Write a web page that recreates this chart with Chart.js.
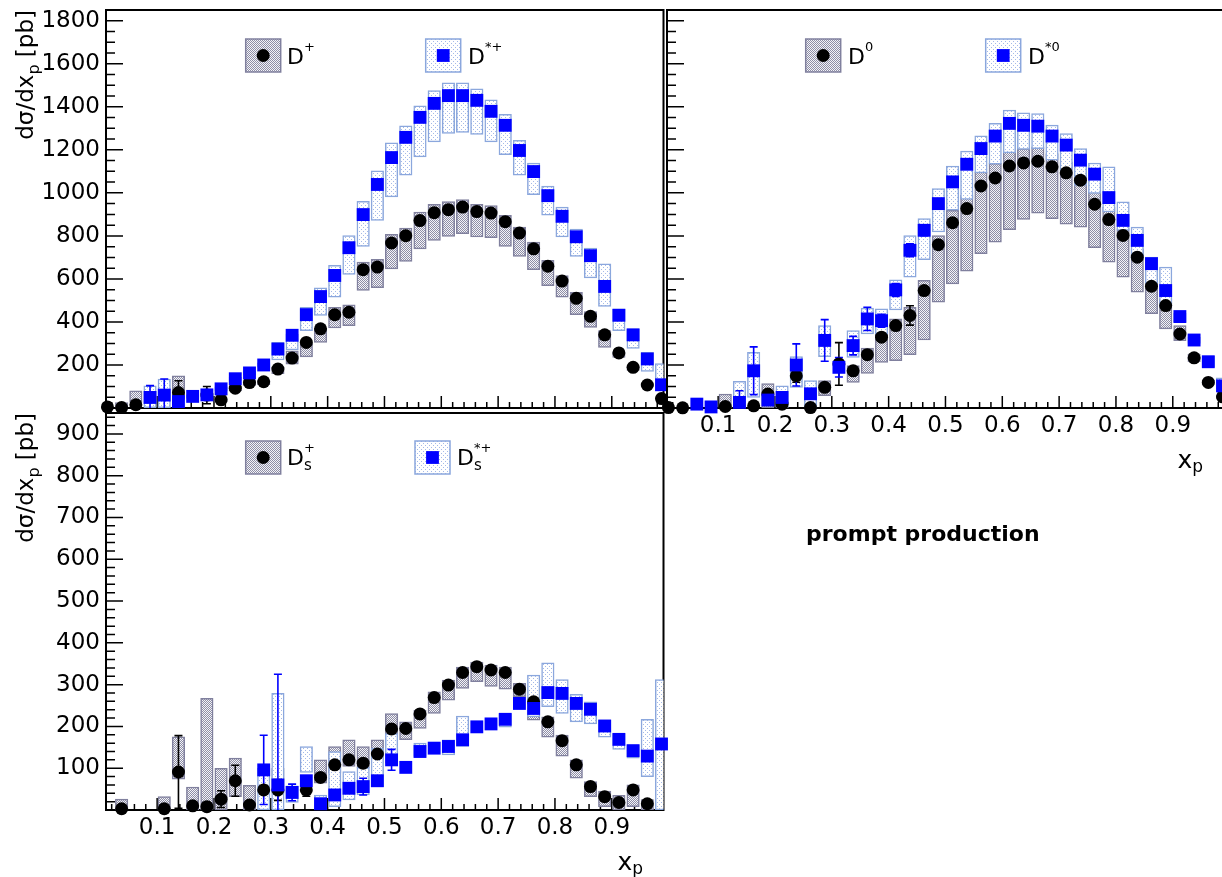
<!DOCTYPE html>
<html><head><meta charset="utf-8"><title>prompt production</title>
<script src="https://cdn.jsdelivr.net/npm/chart.js@4.4.1/dist/chart.umd.min.js"></script>
<style>
html,body{margin:0;padding:0;background:#fff;overflow:hidden;}
body{width:1222px;height:877px;position:relative;}
canvas{position:absolute;}
</style></head><body>
<canvas id="cTL" width="672" height="420" style="left:0px;top:0px"></canvas>
<canvas id="cTR" width="580" height="560" style="left:660px;top:0px"></canvas>
<canvas id="cBL" width="672" height="472" style="left:0px;top:405px"></canvas>
<script>
// ---------------- data ----------------
const xp = [0.0125,0.0375,0.0625,0.0875,0.1125,0.1375,0.1625,0.1875,0.2125,0.2375,
            0.2625,0.2875,0.3125,0.3375,0.3625,0.3875,0.4125,0.4375,0.4625,0.4875,
            0.5125,0.5375,0.5625,0.5875,0.6125,0.6375,0.6625,0.6875,0.7125,0.7375,
            0.7625,0.7875,0.8125,0.8375,0.8625,0.8875,0.9125,0.9375,0.9625,0.9875];

const xTickLabels = ['0.1','0.2','0.3','0.4','0.5','0.6','0.7','0.8','0.9'];
const yTopTickLabels = ['200','400','600','800','1000','1200','1400','1600','1800'];
const yBotTickLabels = ['100','200','300','400','500','600','700','800','900'];

// D+ (top left)
const dPlus = [5,2,15,null,null,72,null,60,38,92,
  118,122,181,232,305,368,434,445,643,655,
  767,801,871,908,922,934,913,906,866,813,
  740,659,590,510,426,340,256,189,107,44];
const dPlusSys = [null,[0,25],[26,80],null,null,[40,150],null,null,[28,48],[80,100],
  [105,128],[108,130],[160,190],[204,266],[238,300],[305,370],[372,468],[383,479],[546,678],[559,691],
  [647,807],[681,836],[740,911],[779,947],[798,959],[810,969],[795,947],[792,941],[751,896],[705,841],
  [643,771],[569,686],[515,616],[434,538],[375,448],[282,360],[235,262],[175,195],[100,112],[40,48]];
const dPlusErr = [0,0,0,0,0,55,0,40,0,0, 0,0,0,0,0,0,0,0,0,0, 0,0,0,0,0,0,0,0,0,0, 0,0,0,0,0,0,0,0,0,0];

// D*+ (top left)
const dStarPlus = [null,null,null,49,60,30,54,61,89,136,
  163,200,274,338,434,518,616,745,899,1039,
  1164,1258,1351,1416,1452,1452,1430,1379,1314,1197,
  1099,987,891,796,708,565,431,340,228,108];
const dStarPlusSys = [null,null,null,[2,103],[2,135],null,[45,62],[50,68],[80,98],[128,142],
  [155,170],[190,210],[223,305],[270,344],[360,468],[430,559],[515,663],[621,802],[751,961],[872,1102],
  [981,1233],[1082,1312],[1167,1405],[1237,1475],[1276,1512],[1281,1512],[1272,1483],[1237,1432],[1178,1365],[1082,1244],
  [992,1138],[896,1031],[795,934],[705,832],[605,743],[472,670],[360,461],[277,368],[170,259],[80,207]];
const dStarPlusErr = [0,0,0,55,75,0,0,0,0,0, 0,0,0,0,0,0,0,0,0,0, 0,0,0,0,0,0,0,0,0,0, 0,0,0,0,0,0,0,0,0,0];

// D0 (top right)
const dZero = [2,1,null,null,7,null,10,65,18,150,
  2,96,205,173,248,329,383,430,546,759,
  861,927,1032,1069,1125,1139,1147,1121,1093,1059,
  947,876,802,701,566,476,344,233,119,52];
const dZeroSys = [null,null,null,null,[2,65],null,null,[2,114],null,null,
  null,[57,127],null,[119,197],[161,279],[212,380],[220,414],[248,468],[316,593],[492,802],
  [577,919],[636,989],[717,1097],[771,1137],[829,1191],[876,1206],[906,1214],[880,1183],[854,1144],[841,1113],
  [745,1004],[678,934],[608,834],[538,740],[438,593],[368,507],[313,383],[215,250],[110,130],[45,60]];
const dZeroErr = [0,0,0,0,10,0,0,15,0,30, 0,0,99,0,0,0,0,45,0,0, 0,0,0,0,0,0,0,0,0,0, 0,0,0,0,0,0,0,0,0,0];

// D*0 (top right)
const dStarZero = [null,null,18,5,null,26,173,37,49,200,
  66,314,189,290,414,406,549,733,826,950,
  1051,1133,1206,1264,1323,1314,1310,1264,1222,1152,
  1087,978,872,779,671,546,425,316,215,103];
const dStarZeroSys = [null,null,null,null,null,[2,124],[49,259],null,[2,103],[96,239],
  [2,127],[239,383],null,[235,360],[344,464],[344,461],[456,596],[608,802],[689,880],[818,1020],
  [919,1125],[969,1194],[1093,1265],[1133,1323],[1186,1385],[1202,1372],[1206,1369],[1152,1315],[1105,1276],[1035,1206],
  [997,1139],[911,1121],[826,958],[694,841],[580,701],[476,655],[400,440],[300,330],[190,240],[90,140]];
const dStarZeroErr = [0,0,0,0,0,54,111,0,0,98, 0,97,45,43,54,30,30,30,25,0, 0,0,0,0,0,0,0,0,0,0, 0,0,0,0,0,0,0,0,0,0];

// Ds+ (bottom left)
const dsPlus = [null,3,null,null,3,91,10,8,26,70,
  12,48,48,null,48,78,108,120,112,134,
  194,195,230,269,299,329,343,335,329,289,
  259,211,166,108,56,32,18,48,15,null];
const dsPlusSys = [null,[0,26],null,null,[0,32],[74,175],[0,55],[0,267],[0,100],[32,124],
  [0,59],null,[40,100],null,null,[64,120],[88,152],[104,168],[100,152],[120,168],
  [175,231],[168,211],[195,239],[231,283],[263,311],[291,342],[307,354],[296,347],[289,342],[271,303],
  [215,267],[174,223],[129,179],[76,120],[32,68],[8,45],[0,35],[8,60],[0,25],null];
const dsPlusErr = [0,0,0,0,0,87,0,0,20,37, 0,0,25,0,15,0,0,0,0,0, 0,0,0,0,0,0,0,0,0,0, 0,0,0,0,0,0,0,0,0,0];

// Ds*+ (bottom left)
const dsStar = [null,null,null,null,null,null,null,null,null,null,
  null,96,60,42,70,15,36,52,56,70,
  120,102,140,148,152,168,199,206,217,255,
  243,281,279,255,241,201,169,142,129,158];
const dsStarSys = [null,null,null,null,null,null,null,null,null,null,
  null,[0,100],[0,279],[18,58],[90,152],[0,36],[8,140],[24,92],[36,102],[56,148],
  [112,183],null,[128,160],null,[132,168],[152,225],null,null,[198,231],null,
  [223,323],[247,352],[231,312],[211,277],[206,259],[174,215],[145,183],[124,156],[80,217],[0,312]];
const dsStarErr = [0,0,0,0,0,0,0,0,0,0, 0,83,265,20,0,0,0,0,20,0, 25,0,0,0,0,0,0,0,0,0, 0,0,0,0,0,0,0,0,0,0];

// ---------------- styling ----------------
const FONT = '"DejaVu Sans", "Liberation Sans", sans-serif';
const BLACK = '#000000', BLUE = '#0000ff';
const GREY_EDGE = '#80809e', BLUE_EDGE = '#8ba7dd';

function makePattern(kind) {
  const c = document.createElement('canvas');
  const g = c.getContext('2d');
  if (kind === 'grey') {
    c.width = 2; c.height = 2;
    g.fillStyle = '#f4f4f8'; g.fillRect(0, 0, 2, 2);
    g.fillStyle = '#8e8ea6'; g.fillRect(0, 0, 1, 1); g.fillRect(1, 1, 1, 1);
  } else {
    c.width = 4; c.height = 4;
    g.fillStyle = '#ffffff'; g.fillRect(0, 0, 4, 4);
    g.fillStyle = '#a4b9e8'; g.fillRect(1, 1, 1, 1); g.fillRect(3, 3, 1, 1);
  }
  return g.createPattern(c, 'repeat');
}
const GREY_PAT = makePattern('grey');
const BLUE_PAT = makePattern('blue');

function boxes(sys, pat, edge, order) {
  const data = [];
  xp.forEach((x, i) => { if (sys[i]) data.push({x: x, y: sys[i]}); });
  return {type: 'bar', data: data, backgroundColor: pat, borderColor: edge, borderWidth: 1.5,
          borderSkipped: false, barThickness: 12.5, grouped: false, order: order};
}
function markers(vals, errs, shape, color, r, order, first) {
  const data = [];
  xp.forEach((x, i) => { if (vals[i] !== null) data.push({x: x, y: vals[i], e: errs[i] || 0}); });
  return {type: 'scatter', data: data, pointStyle: shape, pointRadius: r, pointHoverRadius: r,
          backgroundColor: color, borderColor: color, borderWidth: 0, pointBorderWidth: 0,
          showLine: false, clip: false, order: order, firstMarker: first};
}

function xScale(showLabels, h) {
  return {
    type: 'linear', min: 0.01, max: 0.991, offset: false,
    grid: {display: false, offset: false, drawTicks: false}, border: {display: false},
    afterBuildTicks: s => { const t = []; for (let i = 1; i <= 49; i++) t.push({value: i * 2 / 100}); s.ticks = t; },
    afterFit: s => { s.height = h; s.paddingLeft = 0; s.paddingRight = 0; },
    ticks: {display: showLabels, autoSkip: false, maxRotation: 0, minRotation: 0, padding: 4,
            color: '#000', font: {family: FONT, size: 23},
            callback: v => { const n = Math.round(v * 100); return n % 10 === 0 ? xTickLabels[n / 10 - 1] : ''; }}
  };
}
function yScale(max, step, major, labels, showLabels, w) {
  return {
    type: 'linear', min: 0, max: max,
    grid: {display: false, drawTicks: false}, border: {display: false},
    afterBuildTicks: s => { const t = []; for (let v = 0; v <= max; v += step) t.push({value: v}); s.ticks = t; },
    afterFit: s => { s.width = w; s.paddingTop = 0; s.paddingBottom = 0; },
    ticks: {display: showLabels, autoSkip: false, padding: 6, color: '#000', font: {family: FONT, size: 23},
            callback: v => (v > 0 && v % major === 0) ? labels[v / major - 1] : ''}
  };
}

// ---------------- decoration plugin ----------------
function drawErrors(chart) {
  const ctx = chart.ctx, ca = chart.chartArea, xs = chart.scales.x, ys = chart.scales.y;
  ctx.save(); ctx.lineWidth = 1.6;
  chart.data.datasets.forEach(ds => {
    if (ds.type !== 'scatter') return;
    ctx.strokeStyle = ds.borderColor;
    ds.data.forEach(p => {
      if (!p.e) return;
      const px = xs.getPixelForValue(p.x);
      const y1 = ys.getPixelForValue(p.y + p.e), y2 = ys.getPixelForValue(p.y - p.e);
      ctx.beginPath();
      ctx.moveTo(px, Math.max(y1, ca.top)); ctx.lineTo(px, Math.min(y2, ca.bottom));
      if (y1 >= ca.top) { ctx.moveTo(px - 4, y1); ctx.lineTo(px + 4, y1); }
      if (y2 <= ca.bottom) { ctx.moveTo(px - 4, y2); ctx.lineTo(px + 4, y2); }
      ctx.stroke();
    });
  });
  ctx.restore();
}
function drawYTitle(ctx, bx, topY) {
  ctx.save();
  const f1 = '23px ' + FONT, f2 = '16px ' + FONT;
  ctx.font = f1; const w1 = ctx.measureText('dσ/dx').width; const w3 = ctx.measureText(' [pb]').width;
  ctx.font = f2; const w2 = ctx.measureText('p').width;
  const L = w1 + w2 + w3;
  ctx.translate(bx, topY + L); ctx.rotate(-Math.PI / 2);
  ctx.fillStyle = '#000'; ctx.textAlign = 'left'; ctx.textBaseline = 'alphabetic';
  ctx.font = f1; ctx.fillText('dσ/dx', 0, 0);
  ctx.font = f2; ctx.fillText('p', w1, 6);
  ctx.font = f1; ctx.fillText(' [pb]', w1 + w2, 0);
  ctx.restore();
}
function drawXTitle(ctx, right, base) {
  ctx.save();
  ctx.fillStyle = '#000'; ctx.textAlign = 'left'; ctx.textBaseline = 'alphabetic';
  const f1 = '25px ' + FONT, f2 = '17px ' + FONT;
  ctx.font = f1; const wx = ctx.measureText('x').width;
  ctx.font = f2; const wp = ctx.measureText('p').width;
  const sx = right - wx - wp;
  ctx.font = f1; ctx.fillText('x', sx, base);
  ctx.font = f2; ctx.fillText('p', sx + wx, base + 4);
  ctx.restore();
}
function drawLegend(ctx, e) {
  ctx.save();
  ctx.fillStyle = e.pat; ctx.fillRect(e.x, e.y, 35, 33);
  ctx.strokeStyle = e.edge; ctx.lineWidth = 1.5; ctx.strokeRect(e.x, e.y, 35, 33);
  const cx = e.x + 17.5, cy = e.y + 16.5;
  ctx.fillStyle = e.color;
  if (e.marker === 'circle') { ctx.beginPath(); ctx.arc(cx, cy, 6.5, 0, 2 * Math.PI); ctx.fill(); }
  else { ctx.fillRect(cx - 6.4, cy - 6.4, 12.8, 12.8); }
  ctx.fillStyle = '#000'; ctx.textAlign = 'left'; ctx.textBaseline = 'alphabetic';
  ctx.font = '22px ' + FONT; ctx.fillText('D', e.tx, e.base);
  const w = ctx.measureText('D').width;
  if (e.sup) { ctx.font = '13px ' + FONT; ctx.fillText(e.sup, e.tx + w, e.base - 13); }
  if (e.sub) { ctx.font = '15px ' + FONT; ctx.fillText(e.sub, e.tx + w, e.base + 5); }
  ctx.restore();
}
function decor(cfg) {
  return {
    id: 'decor',
    beforeDatasetsDraw(chart) {
      const ctx = chart.ctx, ca = chart.chartArea, xs = chart.scales.x, ys = chart.scales.y;
      ctx.save();
      ctx.strokeStyle = '#000'; ctx.lineWidth = 1.5;
      ctx.beginPath();
      xs.ticks.forEach(t => {
        const n = Math.round(t.value * 100); if (n % 2) return;
        const len = n % 10 === 0 ? 12 : 6;
        const px = xs.getPixelForValue(t.value);
        ctx.moveTo(px, ca.bottom); ctx.lineTo(px, ca.bottom - len);
      });
      ys.ticks.forEach(t => {
        const v = Math.round(t.value); if (v <= 0 || v >= ys.max) return;
        const len = v % cfg.yMajor === 0 ? 17 : 9;
        const py = ys.getPixelForValue(v);
        ctx.moveTo(ca.left, py); ctx.lineTo(ca.left + len, py);
      });
      ctx.stroke();
      ctx.lineWidth = 2;
      ctx.strokeRect(ca.left, ca.top, ca.right - ca.left, ca.bottom - ca.top);
      ctx.restore();
    },
    beforeDatasetDraw(chart, args) {
      const ds = chart.data.datasets[args.index];
      if (ds.firstMarker) drawErrors(chart);
    },
    afterDraw(chart) {
      const ctx = chart.ctx;
      ctx.save();
      ctx.translate(-cfg.offX, -cfg.offY);
      cfg.legends.forEach(e => drawLegend(ctx, e));
      if (cfg.yTitle) drawYTitle(ctx, cfg.yTitle[0], cfg.yTitle[1]);
      if (cfg.xTitle) drawXTitle(ctx, cfg.xTitle[0], cfg.xTitle[1]);
      (cfg.texts || []).forEach(t => {
        ctx.fillStyle = '#000'; ctx.font = t.font; ctx.textAlign = 'left'; ctx.textBaseline = 'alphabetic';
        ctx.fillText(t.text, t.x, t.y);
      });
      ctx.restore();
    }
  };
}

function makeChart(id, datasets, scales, padding, cfg) {
  return new Chart(document.getElementById(id), {
    type: 'scatter',
    data: {datasets: datasets},
    options: {
      responsive: false, animation: false, devicePixelRatio: 1, events: [],
      layout: {padding: padding, autoPadding: false},
      plugins: {legend: {display: false}, tooltip: {enabled: false}},
      scales: scales
    },
    plugins: [decor(cfg)]
  });
}

// Top left: D+ and D*+
makeChart('cTL', [
    boxes(dPlusSys, GREY_PAT, GREY_EDGE, 4),
    boxes(dStarPlusSys, BLUE_PAT, BLUE_EDGE, 3),
    markers(dPlus, dPlusErr, 'circle', BLACK, 6.5, 2, true),
    markers(dStarPlus, dStarPlusErr, 'rect', BLUE, 9.1, 1, false)
  ],
  {x: xScale(false, 0), y: yScale(1850, 50, 200, yTopTickLabels, true, 106)},
  {left: 0, top: 10, right: 8.5, bottom: 12},
  {offX: 0, offY: 0, yMajor: 200, yTitle: [33, 10],
   legends: [
     {x: 245.7, y: 39, pat: GREY_PAT, edge: GREY_EDGE, marker: 'circle', color: BLACK, tx: 287, base: 64, sup: '+'},
     {x: 425.7, y: 39, pat: BLUE_PAT, edge: BLUE_EDGE, marker: 'rect', color: BLUE, tx: 468, base: 64, sup: '*+'}
   ]});

// Top right: D0 and D*0
makeChart('cTR', [
    boxes(dZeroSys, GREY_PAT, GREY_EDGE, 4),
    boxes(dStarZeroSys, BLUE_PAT, BLUE_EDGE, 3),
    markers(dZero, dZeroErr, 'circle', BLACK, 6.5, 2, true),
    markers(dStarZero, dStarZeroErr, 'rect', BLUE, 9.1, 1, false)
  ],
  {x: xScale(true, 40), y: yScale(1850, 50, 200, yTopTickLabels, false, 0)},
  {left: 7, top: 10, right: 15.5, bottom: 112},
  {offX: 660, offY: 0, yMajor: 200, xTitle: [1203, 468],
   legends: [
     {x: 805.7, y: 39, pat: GREY_PAT, edge: GREY_EDGE, marker: 'circle', color: BLACK, tx: 848, base: 64, sup: '0'},
     {x: 985.7, y: 39, pat: BLUE_PAT, edge: BLUE_EDGE, marker: 'rect', color: BLUE, tx: 1028, base: 64, sup: '*0'}
   ],
   texts: [{text: 'prompt production', x: 806, y: 541, font: 'bold 22px ' + FONT}]});

// Bottom left: Ds+ and Ds*+
makeChart('cBL', [
    boxes(dsPlusSys, GREY_PAT, GREY_EDGE, 4),
    boxes(dsStarSys, BLUE_PAT, BLUE_EDGE, 3),
    markers(dsPlus, dsPlusErr, 'circle', BLACK, 6.5, 2, true),
    markers(dsStar, dsStarErr, 'rect', BLUE, 9.1, 1, false)
  ],
  {x: xScale(true, 40), y: yScale(950, 20, 100, yBotTickLabels, true, 106)},
  {left: 0, top: 8, right: 8.5, bottom: 27},
  {offX: 0, offY: 405, yMajor: 100, yTitle: [33, 413], xTitle: [643, 870],
   legends: [
     {x: 245.7, y: 441, pat: GREY_PAT, edge: GREY_EDGE, marker: 'circle', color: BLACK, tx: 287, base: 465, sup: '+', sub: 's'},
     {x: 415, y: 441, pat: BLUE_PAT, edge: BLUE_EDGE, marker: 'rect', color: BLUE, tx: 457, base: 465, sup: '*+', sub: 's'}
   ]});
</script>
</body></html>
